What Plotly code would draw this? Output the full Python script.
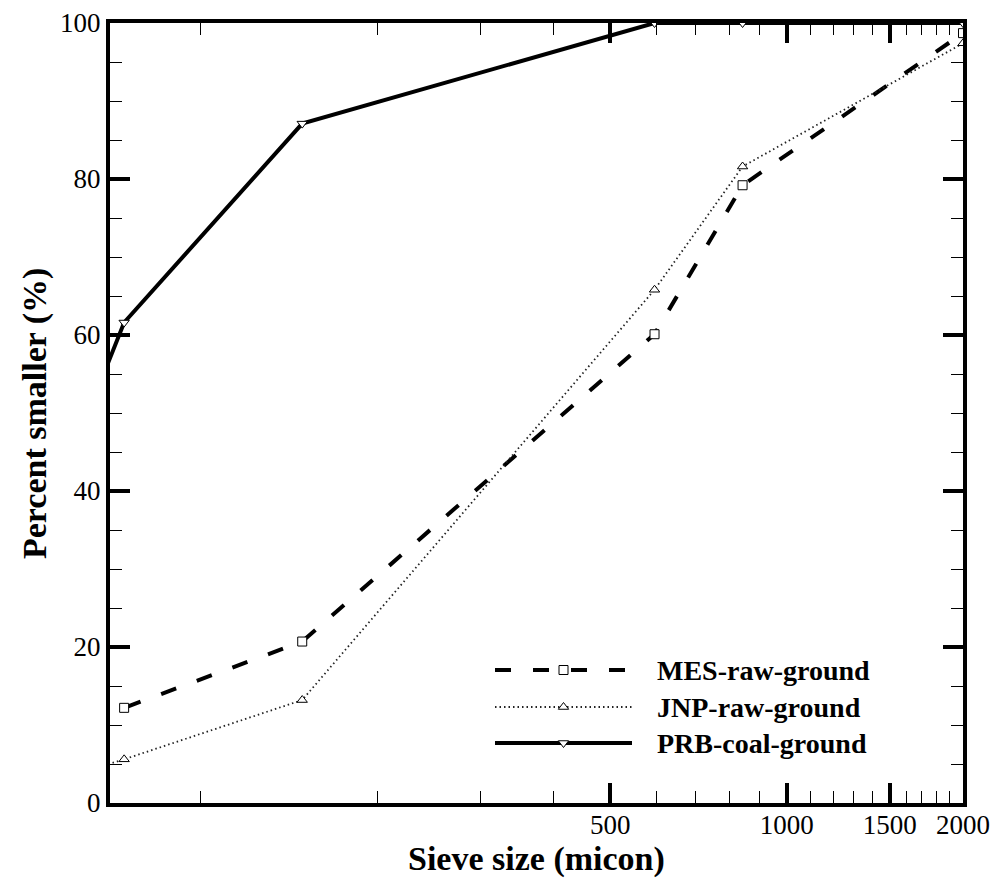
import math
import plotly.graph_objects as go

# ---- data ----
sieve_um = [44, 74, 149, 595, 841, 2000]
mes_raw_ground = [3.0, 12.2, 20.7, 60.1, 79.2, 98.7]
jnp_raw_ground = [0.5, 5.6, 13.2, 65.8, 81.6, 97.4]
prb_coal_ground = [19.0, 61.6, 87.1, 100.0, 100.0, 100.0]

series_names = ["MES-raw-ground", "JNP-raw-ground", "PRB-coal-ground"]
x_major_ticks = [500, 1000, 1500, 2000]
x_minor_ticks = [100, 200, 300, 400, 600, 700, 800, 900, 1100, 1200, 1300, 1400,
                 1600, 1700, 1800, 1900]
y_ticks = [0, 20, 40, 60, 80, 100]
x_title = "Sieve size (micon)"
y_title = "Percent smaller (%)"

FONT = "Liberation Serif"

styles = [
    dict(line=dict(color="black", width=4, dash="16px,22px"), symbol="square"),
    dict(line=dict(color="#222", width=1.8, dash="1.5px,3px"), symbol="triangle-up"),
    dict(line=dict(color="black", width=4), symbol="triangle-down"),
]
series = [mes_raw_ground, jnp_raw_ground, prb_coal_ground]

fig = go.Figure()
for name, ys, st in zip(series_names, series, styles):
    fig.add_trace(go.Scatter(
        x=sieve_um, y=ys, mode="lines+markers", name=name,
        line=st["line"],
        marker=dict(symbol=st["symbol"], size=9, color="white",
                    line=dict(color="black", width=1)),
        showlegend=False, xaxis="x", yaxis="y",
    ))

# ---- custom legend drawn on an overlay axis in pixel-like units ----
leg_x0, leg_x1, leg_text_x = 495, 632, 655
leg_rows = [670, 707, 743]
for name, st, yy in zip(series_names, styles, leg_rows):
    fig.add_trace(go.Scatter(
        x=[leg_x0, leg_x1], y=[yy, yy], mode="lines", line=st["line"],
        showlegend=False, hoverinfo="skip", xaxis="x2", yaxis="y2"))
    fig.add_trace(go.Scatter(
        x=[(leg_x0 + leg_x1) / 2], y=[yy], mode="markers",
        marker=dict(symbol=st["symbol"], size=9, color="white",
                    line=dict(color="black", width=1)),
        showlegend=False, hoverinfo="skip", xaxis="x2", yaxis="y2"))
    fig.add_annotation(x=leg_text_x, y=yy, xref="x2", yref="y2", text=name,
                       showarrow=False, xanchor="left", yanchor="middle",
                       font=dict(family=FONT, size=28, color="black", weight="bold"))

# axis titles
fig.add_annotation(x=0.5, y=(803 - 859) / 780, xref="paper", yref="paper",
                   text=x_title, showarrow=False, xanchor="center", yanchor="middle",
                   font=dict(family=FONT, size=34, color="black", weight="bold"))
fig.add_annotation(x=(35 - 110) / 853, y=(803 - 414) / 780, xref="paper", yref="paper",
                   text=y_title, showarrow=False, xanchor="center", yanchor="middle",
                   textangle=-90,
                   font=dict(family=FONT, size=34, color="black", weight="bold"))

fig.update_layout(
    width=998, height=878,
    margin=dict(l=110, r=35, t=23, b=75),
    paper_bgcolor="white", plot_bgcolor="white",
    showlegend=False,
    font=dict(family=FONT, color="black"),
    xaxis=dict(
        type="log", range=[math.log10(70), math.log10(2000)],
        automargin=False,
        tickmode="array", tickvals=x_major_ticks,
        ticktext=[str(v) for v in x_major_ticks],
        ticks="inside", ticklen=20, tickwidth=4, tickcolor="black",
        ticklabelstandoff=-5,
        minor=dict(tickmode="array", tickvals=x_minor_ticks, ticks="inside",
                   ticklen=12, tickwidth=1, tickcolor="black", showgrid=False),
        showline=True, linewidth=4, linecolor="black", mirror="allticks",
        showgrid=False, zeroline=False,
        tickfont=dict(family=FONT, size=27, color="black"),
    ),
    yaxis=dict(
        range=[0, 100], tickmode="array", tickvals=y_ticks,
        automargin=False,
        ticks="inside", ticklen=20, tickwidth=4, tickcolor="black",
        minor=dict(dtick=5, ticks="inside", ticklen=12, tickwidth=1,
                   tickcolor="black", showgrid=False),
        showline=True, linewidth=4, linecolor="black", mirror="allticks",
        showgrid=False, zeroline=False,
        tickfont=dict(family=FONT, size=27, color="black"),
    ),
    xaxis2=dict(overlaying="x", range=[110, 963], visible=False, fixedrange=True),
    yaxis2=dict(overlaying="y", range=[803, 23], visible=False, fixedrange=True),
)

fig.write_html("out.html")
